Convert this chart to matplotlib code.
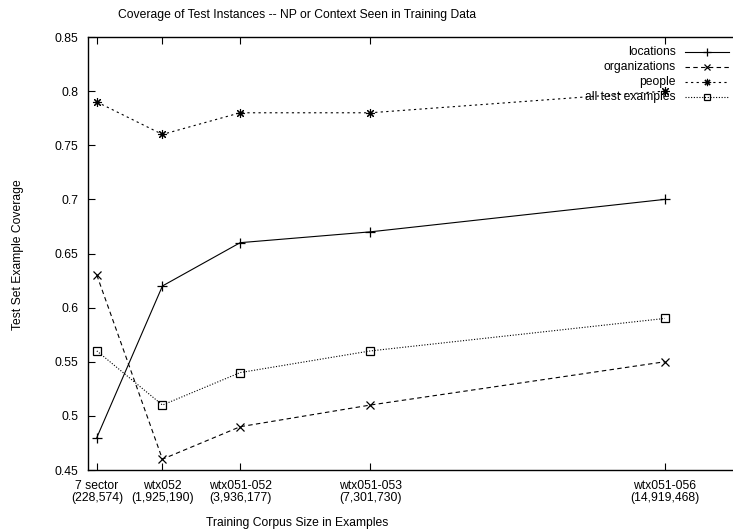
import matplotlib
matplotlib.use("Agg")
import matplotlib.pyplot as plt
from matplotlib.lines import Line2D

plt.rcParams['font.family'] = ['Liberation Sans', 'DejaVu Sans']

corpus_sizes = [228574, 1925190, 3936177, 7301730, 14919468]
tick_labels = ["7 sector\n(228,574)", "wtx052\n(1,925,190)", "wtx051-052\n(3,936,177)",
               "wtx051-053\n(7,301,730)", "wtx051-056\n(14,919,468)"]
locations = [0.48, 0.62, 0.66, 0.67, 0.70]
organizations = [0.63, 0.46, 0.49, 0.51, 0.55]
people = [0.79, 0.76, 0.78, 0.78, 0.80]
all_test = [0.56, 0.51, 0.54, 0.56, 0.59]
series_names = ["locations", "organizations", "people", "all test examples"]

FS = 8.7
W, H = 733, 531
fig = plt.figure(figsize=(W / 100, H / 100), dpi=100)
x0, x1 = 88, 745
y0, y1 = 37, 470
ax = fig.add_axes([x0 / W, 1 - y1 / H, (x1 - x0) / W, (y1 - y0) / H])

styles = [
    dict(marker='+', ms=7, mew=0.9, dashes=None),
    dict(marker='x', ms=5.5, mew=0.9, dashes=(4, 3)),
    dict(marker=(8, 2, 0), ms=6.5, mew=0.8, dashes=(2, 3)),
    dict(marker='s', ms=5.5, mew=0.9, dashes=(1, 1.5)),
]
data = [locations, organizations, people, all_test]

for vals, st in zip(data, styles):
    line, = ax.plot(corpus_sizes, vals, color='black', lw=0.8, marker=st['marker'],
                    ms=st['ms'], mfc='none', mec='black', mew=st['mew'])
    if st['dashes'] is not None:
        line.set_dashes(st['dashes'])

ax.set_xlim(0, (x1 - x0) / ((665 - 97) / (corpus_sizes[-1] - corpus_sizes[0])))
ax.set_ylim(0.45, 0.85)
ax.set_xticks(corpus_sizes)
ax.set_xticklabels(tick_labels, linespacing=1.0)
ax.set_yticks([0.45, 0.5, 0.55, 0.6, 0.65, 0.7, 0.75, 0.8, 0.85])
ax.set_yticklabels(["0.45", "0.5", "0.55", "0.6", "0.65", "0.7", "0.75", "0.8", "0.85"])
ax.tick_params(axis='both', direction='in', length=5, width=0.8, labelsize=FS,
               top=True, right=True)
ax.tick_params(axis='y', pad=7)
ax.tick_params(axis='x', pad=7)
for s in ax.spines.values():
    s.set_linewidth(1.0)

fig.text(297 / W, 1 - 15 / H, "Coverage of Test Instances -- NP or Context Seen in Training Data",
         ha='center', va='center', fontsize=FS)
fig.text(297 / W, 1 - 523 / H, "Training Corpus Size in Examples",
         ha='center', va='center', fontsize=FS)
fig.text(18 / W, 1 - 255 / H, "Test Set Example Coverage", rotation=90,
         ha='center', va='center', fontsize=FS)

# legend (gnuplot-style key: right-aligned labels, sample on the right)
row_y = [52, 67, 82, 97]
for name, st, yy in zip(series_names, styles, row_y):
    fig.text(676 / W, 1 - yy / H, name, ha='right', va='center', fontsize=FS)
    ln = Line2D([685 / W, 729 / W], [1 - yy / H, 1 - yy / H], transform=fig.transFigure,
                color='black', lw=0.8)
    if st['dashes'] is not None:
        ln.set_dashes(st['dashes'])
    fig.add_artist(ln)
    mk = Line2D([707 / W], [1 - yy / H], transform=fig.transFigure, ls='none',
                marker=st['marker'], ms=st['ms'] * 0.8, mfc='none', mec='black',
                mew=st['mew'])
    fig.add_artist(mk)

fig.savefig("out.png", dpi=100)
